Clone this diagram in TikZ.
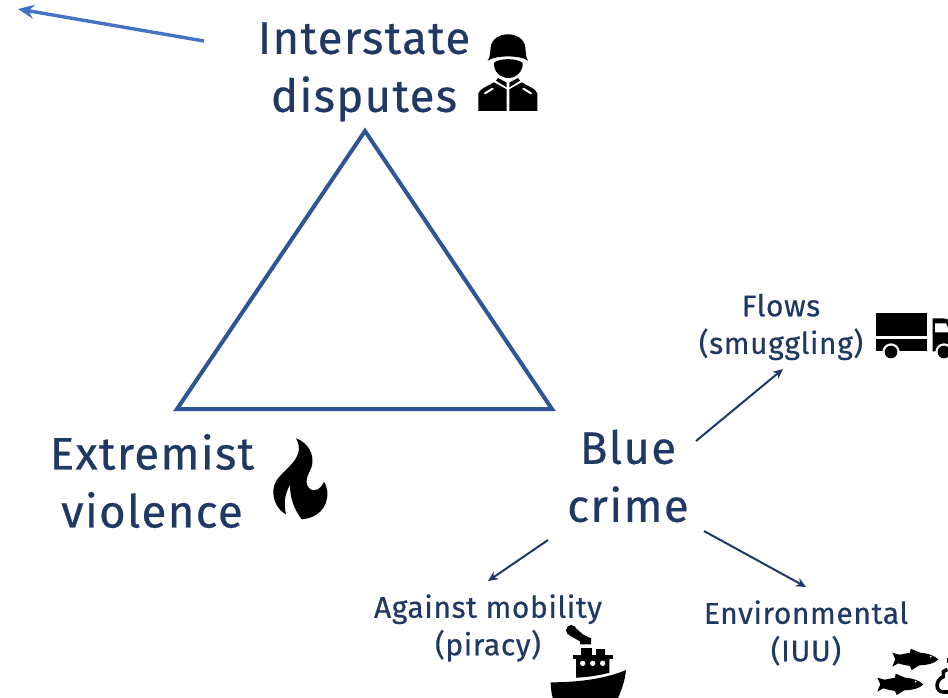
\documentclass[tikz,border=0pt]{standalone}
\usepackage{fontspec}
\setmainfont{Fira Sans}
\definecolor{navy}{HTML}{203864}
\definecolor{tri}{HTML}{2F5597}
\definecolor{blu}{HTML}{4472C4}
\usetikzlibrary{arrows.meta}
\tikzset{
 bigtext/.style={text=navy,align=center,inner sep=0pt,font=\fontsize{45.5}{58}\selectfont\addfontfeatures{LetterSpace=3,FakeBold=0.5}},
 smalltext/.style={text=navy,align=center,inner sep=0pt,font=\fontsize{30}{37.5}\selectfont\addfontfeatures{LetterSpace=2,FakeBold=0.4}},
 branch/.style={navy,line width=2pt,-{Stealth[length=10pt,width=9pt]}},
 icon/.style={fill=black,draw=none},
 hole/.style={fill=white,draw=none}
}
\begin{document}
\begin{tikzpicture}[x=1pt,y=-1pt]
\clip (0,0) rectangle (948,698);
\fill[white] (0,0) rectangle (948,698);
\coordinate (arrowS) at (204,41);
\coordinate (arrowE) at (18,9);
\draw[blu,line width=3.4pt,-{Stealth[length=16pt,width=14pt]}] (arrowS) -- (arrowE);
\coordinate (A) at (365,131);
\coordinate (B) at (177,409);
\coordinate (C) at (552,409);
\draw[tri,line width=4pt,line join=miter] (A) -- (B) -- (C) -- cycle;
\node[bigtext] (inter) at (364,72) {Interstate\\disputes};
\node[bigtext] (extr) at (152,481) {Extremist\\violence};
\node[bigtext] (blue) at (628,476) {Blue\\crime};
\node[smalltext] (flows) at (781,327) {Flows\\(smuggling)};
\node[smalltext] (anti) at (488,628) {Against mobility\\(piracy)};
\node[smalltext] (env) at (806,633) {Environmental\\(IUU)};
\coordinate (b1) at (696,441);
\coordinate (f1) at (783,369);
\coordinate (b2) at (548,540);
\coordinate (a2) at (488,581);
\coordinate (b3) at (704,531);
\coordinate (e3) at (806,587);
\draw[branch] (b1) -- (f1);
\draw[branch] (b2) -- (a2);
\draw[branch] (b3) -- (e3);
% soldier
\begin{scope}[shift={(440,10)},x=0.3333pt,y=-0.3333pt]
\fill[icon] (143,152) .. controls (152,140) and (150,125) .. (152,112) .. controls (158,60) and (250,60) .. (256,112) .. controls (258,125) and (256,140) .. (264,152) .. controls (240,135) and (168,135) .. (143,152) -- cycle;
\fill[icon] (162,158) .. controls (180,144) and (228,144) .. (248,158) .. controls (250,185) and (228,204) .. (205,204) .. controls (182,204) and (160,185) .. (162,158) -- cycle;
\fill[icon] (115,303) -- (115,250) .. controls (120,235) and (145,228) .. (162,217) -- (200,238) -- (200,303) -- cycle;
\fill[icon] (292,303) -- (292,250) .. controls (287,235) and (262,228) .. (245,217) -- (208,238) -- (208,303) -- cycle;
\fill[icon] (168,212) -- (174,204) -- (200,218) -- (200,232) -- cycle;
\fill[icon] (240,212) -- (234,204) -- (208,218) -- (208,232) -- cycle;
\draw[white,line width=2pt,line cap=round] (135,250) -- (158,236);
\draw[white,line width=2pt,line cap=round] (273,250) -- (250,236);
\end{scope}
% flame
\begin{scope}[shift={(250,420)},x=0.3333pt,y=-0.3333pt]
\fill[icon] (138,55) .. controls (155,85) and (145,110) .. (125,132) .. controls (95,165) and (68,180) .. (70,220) .. controls (72,250) and (88,272) .. (108,283) .. controls (100,250) and (105,220) .. (120,195) .. controls (120,240) and (135,270) .. (155,298) .. controls (200,295) and (235,265) .. (232,215) .. controls (231,205) and (228,195) .. (222,185) .. controls (215,205) and (195,220) .. (178,205) .. controls (160,185) and (175,165) .. (185,140) .. controls (195,105) and (175,68) .. (138,55) -- cycle;
\end{scope}
% truck
\begin{scope}[shift={(840,290)},x=0.3333pt,y=-0.3333pt]
\fill[icon] (108,70) rectangle (262,138);
\fill[icon] (108,147) rectangle (262,184);
\fill[icon] (278,85) -- (310,85) .. controls (325,85) and (335,95) .. (345,120) -- (345,184) -- (278,184) -- cycle;
\fill[hole] (285,100) -- (318,100) -- (330,127) -- (285,127) -- cycle;
\fill[hole] (153,186) circle (26);
\fill[icon] (153,186) circle (19);
\fill[hole] (312,186) circle (26);
\fill[icon] (312,186) circle (19);
\end{scope}
% ship
\begin{scope}[shift={(530,610)},x=0.3333pt,y=-0.3333pt]
\fill[icon] (124,61) circle (16);
\fill[icon] (132,50) -- (160,74) -- (183,85) -- (183,103) -- (150,103) -- (150,94) -- (118,76) -- cycle;
\fill[icon] (153,113) rectangle (187,138);
\fill[icon] (198,117) rectangle (226,138);
\fill[icon] (128,135) rectangle (250,147);
\fill[icon] (138,147) -- (238,147) -- (238,188) .. controls (210,196) and (170,202) .. (138,203) -- cycle;
\fill[hole] (158,160) circle (8);
\fill[hole] (188,160) circle (8);
\fill[hole] (218,160) circle (8);
\fill[icon] (62,217) .. controls (150,217) and (230,205) .. (288,180) .. controls (285,215) and (272,245) .. (262,270) -- (70,270) .. controls (65,255) and (62,235) .. (62,217) -- cycle;
\end{scope}
% fish and hook
\begin{scope}[shift={(860,630)},x=0.3333pt,y=-0.3333pt]
\foreach \dx/\dy in {0/0,-45/75}{
\begin{scope}[shift={(\dx,\dy)}]
\fill[icon] (97,68) -- (118,74) .. controls (130,72) and (140,70) .. (150,68) -- (152,56) -- (180,68) .. controls (205,70) and (225,78) .. (235,88) .. controls (225,100) and (200,106) .. (178,106) -- (155,120) -- (150,108) .. controls (140,106) and (125,104) .. (115,100) -- (97,110) -- (106,88) -- cycle;
\fill[hole] (212,80) circle (3);
\end{scope}}
\fill[icon] (262,85) rectangle (270,98);
\draw[black,line width=3.6pt] (262,118) -- (250,125) -- (250,140) .. controls (225,150) and (225,185) .. (250,186) -- (270,186);
\end{scope}
\end{tikzpicture}
\end{document}
